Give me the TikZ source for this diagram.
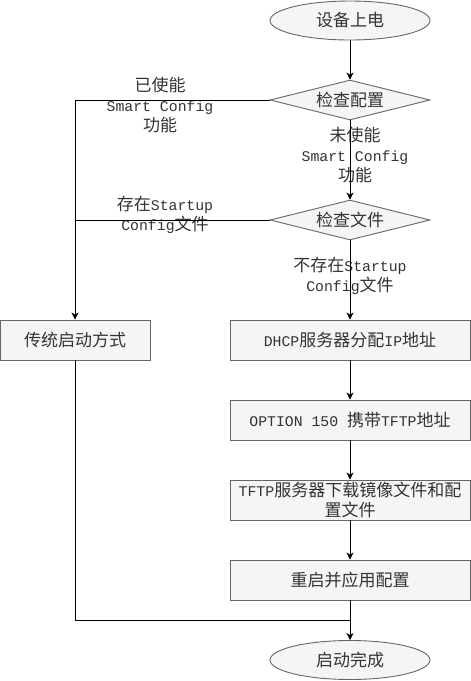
\documentclass[tikz,border=0pt]{standalone}
\usepackage{fontspec}
\setmainfont{Noto Sans CJK SC}
\newfontfamily\monolat{Liberation Mono}
\usetikzlibrary{shapes.geometric,arrows.meta}
\definecolor{boxfill}{HTML}{F5F5F5}
\definecolor{boxline}{HTML}{666666}
\definecolor{txt}{HTML}{333333}
\newcommand\lat[1]{{\fontsize{14.8}{20}\selectfont\monolat #1}}
\tikzset{
  base/.style={draw=boxline, fill=boxfill, line width=0.9pt, text=txt, inner sep=0pt, font=\fontsize{17}{20}\selectfont, align=center},
  procbox/.style={base, rectangle, minimum height=40pt},
  oval/.style={base, ellipse, minimum width=160pt, minimum height=39pt},
  decide/.style={base, diamond, minimum width=160pt, minimum height=40pt, aspect=4},
  lbl/.style={text=txt, inner sep=0pt, font=\fontsize{17}{20}\selectfont, align=center},
  conn/.style={draw=black, line width=0.9pt},
  arr/.style={conn, -{Stealth[length=7pt,width=7pt,inset=2pt]}}
}
\begin{document}
\begin{tikzpicture}[x=1pt,y=-1pt]
\useasboundingbox (0,0) rectangle (471,681);
\node[oval] (start) at (350,20.5) {设备上电};
\node[decide] (d1) at (350,100) {检查配置};
\node[decide] (d2) at (350,220) {检查文件};
\node[procbox, minimum width=150pt] (trad) at (75,340) {传统启动方式};
\node[procbox, minimum width=240pt] (dhcp) at (350,340) {\lat{DHCP}服务器分配\lat{IP}地址};
\node[procbox, minimum width=240pt] (opt) at (350,420) {\lat{OPTION 150 }携带\lat{TFTP}地址};
\node[procbox, minimum width=240pt] (tftp) at (350,500) {\lat{TFTP}服务器下载镜像文件和配\\置文件};
\node[procbox, minimum width=240pt] (reboot) at (350,580) {重启并应用配置};
\node[oval] (done) at (350,660) {启动完成};
\coordinate (merge) at (350,620);

\node[lbl] (l1) at (160,105) {已使能\\\lat{Smart Config}\\功能};
\node[lbl] (l2) at (355,155) {未使能\\\lat{Smart Config}\\功能};
\node[lbl] (l3) at (165,215) {存在\lat{Startup}\\\lat{Config}文件};
\node[lbl] (l4) at (350,276) {不存在\lat{Startup}\\\lat{Config}文件};

\draw[arr] (start) -- (d1);
\draw[arr] (d1) -- (d2);
\draw[arr] (d2) -- (dhcp);
\draw[arr] (d1.west) -| (trad.north);
\draw[conn] (d2.west) -- (trad.north |- d2.west);
\draw[arr] (dhcp) -- (opt);
\draw[arr] (opt) -- (tftp);
\draw[arr] (tftp) -- (reboot);
\draw[arr] (reboot) -- (done);
\draw[conn] (trad.south) |- (merge);
\end{tikzpicture}
\end{document}
